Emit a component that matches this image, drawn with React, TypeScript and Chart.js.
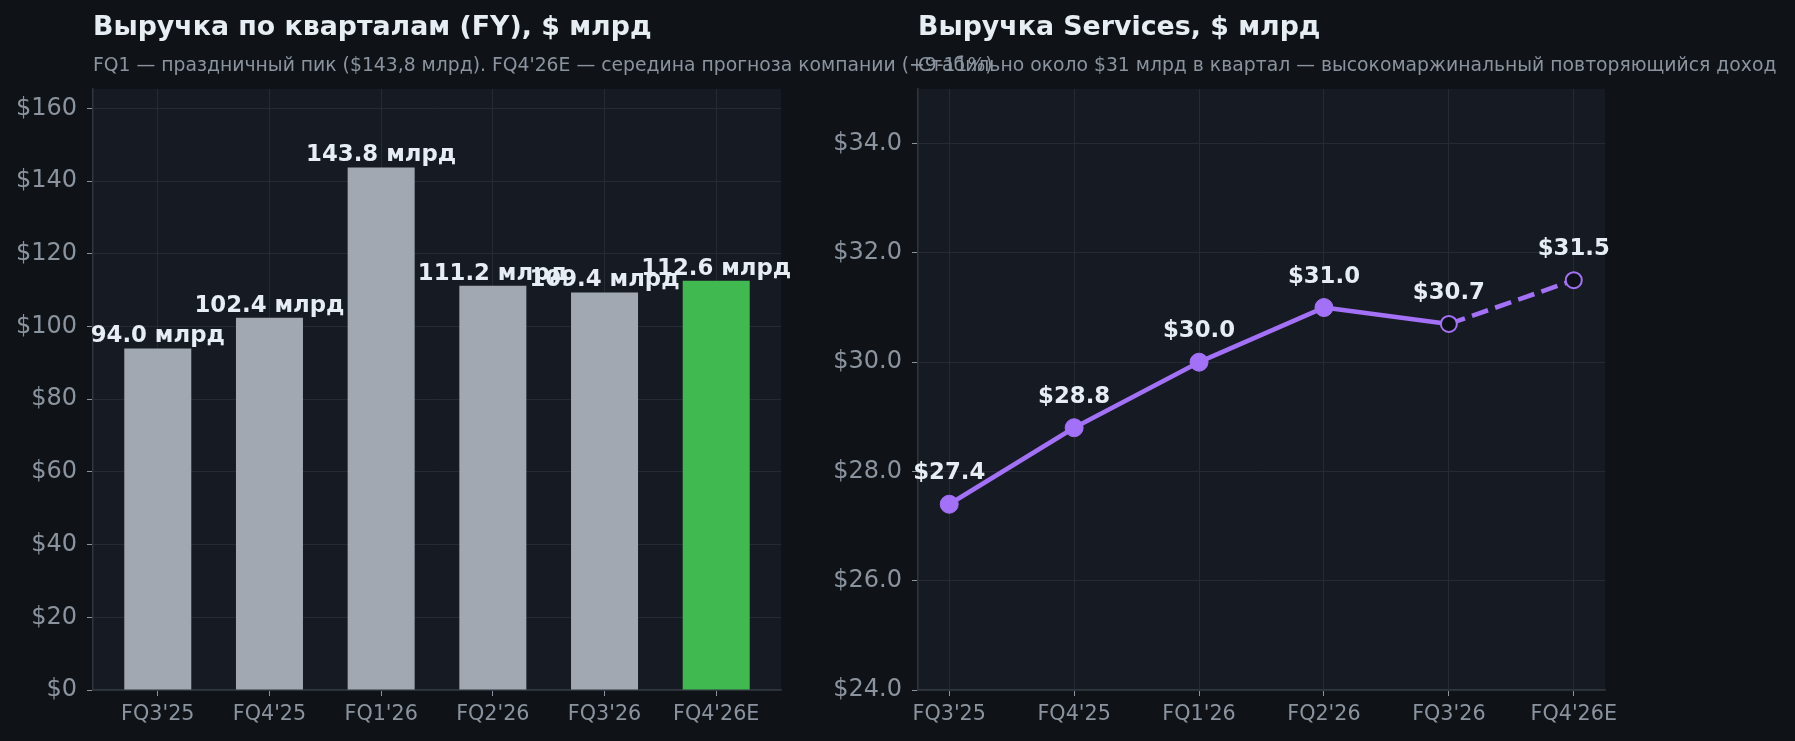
import { Chart, registerables } from 'chart.js';
import { useEffect, useRef } from 'react';

Chart.register(...registerables);

const quarters = ["FQ3'25", "FQ4'25", "FQ1'26", "FQ2'26", "FQ3'26", "FQ4'26E"];
const revenue = [94.0, 102.4, 143.8, 111.2, 109.4, 112.6];
const services = [27.4, 28.8, 30.0, 31.0, 30.7, 31.5];
const revenueTicks = [0, 20, 40, 60, 80, 100, 120, 140, 160];
const servicesTicks = [24, 26, 28, 30, 32, 34];
const hollowFrom = 4; // FQ3'26 onward drawn hollow, dashed after it

const W = 1795;
const H = 741;
const BG = '#0f1318';
const PLOT_BG = '#161a22';
const GRID = '#252a33';
const SPINE = '#30363d';
const MUTED = '#8b949e';
const TEXT = '#e6edf3';
const GRAY_BAR = '#a2a8b1';
const GREEN = '#3fb950';
const PURPLE = '#a371f7';
const FONT = 'DejaVu Sans';

Chart.defaults.font.family = FONT;

const frame = (title: string, subtitle: string) => ({
    id: 'frame',
    beforeDraw(chart: any) {
        const { ctx, chartArea: a } = chart;
        ctx.save();
        ctx.fillStyle = PLOT_BG;
        ctx.fillRect(a.left, a.top, a.right - a.left, a.bottom - a.top);
        ctx.restore();
    },
    afterDraw(chart: any) {
        const { ctx, chartArea: a } = chart;
        ctx.save();
        ctx.textAlign = 'left';
        ctx.textBaseline = 'alphabetic';
        ctx.fillStyle = TEXT;
        ctx.font = `bold 26.8px "${FONT}"`;
        ctx.fillText(title, a.left, 35);
        ctx.fillStyle = MUTED;
        ctx.font = `18.8px "${FONT}"`;
        ctx.fillText(subtitle, a.left, 71);
        ctx.restore();
    }
});

const valueLabels = (fmt: (v: number) => string, lift: number) => ({
    id: 'valueLabels',
    afterDatasetsDraw(chart: any) {
        const { ctx } = chart;
        const meta = chart.getDatasetMeta(0);
        const values = chart.data.datasets[0].data;
        ctx.save();
        ctx.font = `bold 22.8px "${FONT}"`;
        ctx.fillStyle = TEXT;
        ctx.textAlign = 'center';
        ctx.textBaseline = 'alphabetic';
        meta.data.forEach((el: any, i: number) => {
            ctx.fillText(fmt(values[i].y), el.x, el.y - lift);
        });
        ctx.restore();
    }
});

const axisX = (min: number, max: number) => ({
    type: 'linear' as const,
    min,
    max,
    offset: false,
    afterBuildTicks: (s: any) => { s.ticks = quarters.map((_, i) => ({ value: i })); },
    afterFit: (s: any) => { s.height = H - 690; },
    ticks: {
        callback: (_v: any, i: number) => quarters[i],
        color: MUTED,
        font: { size: 20.7 },
        padding: 6,
        maxRotation: 0,
        autoSkip: false
    },
    grid: { offset: false, color: GRID, lineWidth: 1, tickColor: MUTED, tickLength: 6 },
    border: { color: SPINE, width: 1.5 }
});

const axisY = (min: number, max: number, ticks: number[], fmt: (v: number) => string, width: number) => ({
    min,
    max,
    afterBuildTicks: (s: any) => { s.ticks = ticks.map(v => ({ value: v })); },
    afterFit: (s: any) => { s.width = width; },
    ticks: {
        callback: (v: any) => fmt(Number(v)),
        color: MUTED,
        font: { size: 24 },
        padding: 10
    },
    grid: { color: GRID, lineWidth: 1, tickColor: MUTED, tickLength: 6 },
    border: { color: SPINE, width: 1.5 }
});

function ChartCanvas({ build }: { build: () => any }) {
    const canvasRef = useRef<HTMLCanvasElement>(null);
    const chartRef = useRef<Chart | null>(null);

    useEffect(() => {
        if (!canvasRef.current) return;
        const ctx = canvasRef.current.getContext('2d');
        if (!ctx) return;
        if (chartRef.current) chartRef.current.destroy();
        chartRef.current = new Chart(ctx, build());
        return () => {
            if (chartRef.current) {
                chartRef.current.destroy();
                chartRef.current = null;
            }
        };
    }, [build]);

    return (
        <div style={{ position: 'absolute', left: 0, top: 0, width: W, height: H }}>
            <canvas ref={canvasRef} />
        </div>
    );
}

const revenueChart = () => ({
    type: 'bar',
    data: {
        datasets: [{
            data: revenue.map((v, i) => ({ x: i, y: v })),
            backgroundColor: revenue.map((_, i) => (i === revenue.length - 1 ? GREEN : GRAY_BAR)),
            borderWidth: 0,
            barPercentage: 0.6,
            categoryPercentage: 1
        }]
    },
    options: {
        animation: false,
        responsive: true,
        maintainAspectRatio: false,
        events: [],
        layout: { padding: { left: 0, top: 89, right: W - 781, bottom: 0 } },
        scales: {
            x: axisX(-0.58, 5.58),
            y: axisY(0, 165.37, revenueTicks, v => `$${v}`, 93)
        },
        plugins: { legend: { display: false }, tooltip: { enabled: false } }
    },
    plugins: [
        frame('Выручка по кварталам (FY), $ млрд',
            "FQ1 — праздничный пик ($143,8 млрд). FQ4'26E — середина прогноза компании (+9-11%)"),
        valueLabels(v => `${v.toFixed(1)} млрд`, 6)
    ]
});

const servicesChart = () => ({
    type: 'line',
    data: {
        datasets: [{
            data: services.map((v, i) => ({ x: i, y: v })),
            borderColor: PURPLE,
            borderWidth: 4.6,
            borderJoinStyle: 'round',
            tension: 0,
            segment: {
                borderDash: (c: any) => (c.p0DataIndex >= hollowFrom ? [17, 7.5] : undefined)
            },
            pointRadius: services.map((_, i) => (i >= hollowFrom ? 8 : 9)),
            pointBorderWidth: services.map((_, i) => (i >= hollowFrom ? 2 : 1)),
            pointBorderColor: PURPLE,
            pointBackgroundColor: services.map((_, i) => (i >= hollowFrom ? '#0d1117' : PURPLE))
        }]
    },
    options: {
        animation: false,
        responsive: true,
        maintainAspectRatio: false,
        events: [],
        layout: { padding: { left: 918 - 93, top: 89, right: W - 1605, bottom: 0 } },
        scales: {
            x: axisX(-0.25, 5.25),
            y: axisY(24, 35, servicesTicks, v => `$${v.toFixed(1)}`, 93)
        },
        plugins: { legend: { display: false }, tooltip: { enabled: false } }
    },
    plugins: [
        frame('Выручка Services, $ млрд',
            'Стабильно около $31 млрд в квартал — высокомаржинальный повторяющийся доход'),
        valueLabels(v => `$${v.toFixed(1)}`, 25)
    ]
});

export default function App() {
    return (
        <div style={{ position: 'fixed', left: 0, top: 0, width: W, height: H, background: BG, overflow: 'hidden' }}>
            <ChartCanvas build={revenueChart} />
            <ChartCanvas build={servicesChart} />
        </div>
    );
}
